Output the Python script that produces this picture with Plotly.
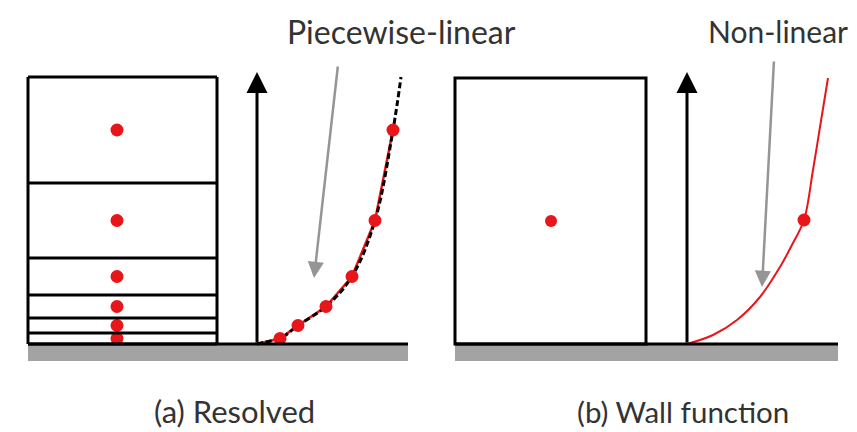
import plotly.graph_objects as go

# ---- data (x in px across the figure, h = height above the wall) ----
wall_a = [28, 408]
wall_b = [455, 838]

cells_a_x = [28, 217]
cell_edges_a = [0, 11, 26, 49, 86, 161, 267]
dots_a_x = 117
dots_a_h = [5.5, 18.5, 37.5, 67.5, 123.5, 214]

axis_a_x = 257
prof_a_u = [0, 23, 41, 69, 95, 118, 136]
prof_a_h = [0, 5.5, 18.5, 37.5, 67.5, 123.5, 214]
fit_a_u = [0, 8, 23, 41, 69, 95, 118, 136, 144]
fit_a_h = [0, 2, 5.5, 18.5, 37.5, 67.5, 123.5, 214, 267]

cell_b_x = [455, 646]
cell_b_h = [0, 266]
dot_b_x = [551]
dot_b_h = [123]

axis_b_x = 687
prof_b_u = [0, 26, 50, 73, 93, 106, 117, 126, 133, 141]
prof_b_h = [0, 9, 24, 47, 77, 101, 124, 174, 217, 266]
pt_b_u = [117]
pt_b_h = [124]

axis_top_h = 272

pointer_a = [(338, 279), (314, 66)]
pointer_b = [(774, 284), (762, 57)]

label_a = ("Piecewise-linear", 401, 313)
label_b = ("Non-linear", 778, 313)
caption_a = ("(a) Resolved", 234, -67)
caption_b = ("(b) Wall function", 683, -67)

RED = "#e8161b"
TXT = "#333333"

fig = go.Figure()
shapes = []

# wall strips
for w in (wall_a, wall_b):
    shapes.append(dict(type="rect", x0=w[0], x1=w[1], y0=-17, y1=0,
                       fillcolor="#a3a3a3", line=dict(width=0), layer="below"))
    shapes.append(dict(type="line", x0=w[0], x1=w[1], y0=0, y1=0,
                       line=dict(color="black", width=3)))

# resolved cells
for e in cell_edges_a:
    shapes.append(dict(type="line", x0=cells_a_x[0], x1=cells_a_x[1], y0=e, y1=e,
                       line=dict(color="black", width=3)))
for xx in cells_a_x:
    shapes.append(dict(type="line", x0=xx, x1=xx, y0=0, y1=cell_edges_a[-1],
                       line=dict(color="black", width=3)))

# wall-function cell
shapes.append(dict(type="rect", x0=cell_b_x[0], x1=cell_b_x[1], y0=cell_b_h[0], y1=cell_b_h[1],
                   line=dict(color="black", width=3)))

fig.add_trace(go.Scatter(x=[dots_a_x] * len(dots_a_h), y=dots_a_h, mode="markers",
                         marker=dict(color=RED, size=13), hoverinfo="skip"))
fig.add_trace(go.Scatter(x=dot_b_x, y=dot_b_h, mode="markers",
                         marker=dict(color=RED, size=12), hoverinfo="skip"))

# profile (a)
fig.add_trace(go.Scatter(x=[axis_a_x + u for u in prof_a_u], y=prof_a_h, mode="lines",
                         line=dict(color=RED, width=2.5), hoverinfo="skip"))
fig.add_trace(go.Scatter(x=[axis_a_x + u for u in fit_a_u], y=fit_a_h, mode="lines",
                         line=dict(color="black", width=3, dash="6px,3px", shape="spline"),
                         hoverinfo="skip"))
fig.add_trace(go.Scatter(x=[axis_a_x + u for u in prof_a_u[1:]], y=prof_a_h[1:], mode="markers",
                         marker=dict(color=RED, size=13), hoverinfo="skip"))

# profile (b)
fig.add_trace(go.Scatter(x=[axis_b_x + u for u in prof_b_u], y=prof_b_h, mode="lines",
                         line=dict(color=RED, width=2, shape="spline", smoothing=1),
                         hoverinfo="skip"))
fig.add_trace(go.Scatter(x=[axis_b_x + u for u in pt_b_u], y=pt_b_h, mode="markers",
                         marker=dict(color=RED, size=13), hoverinfo="skip"))

ann = []
for ax_x in (axis_a_x, axis_b_x):
    ann.append(dict(x=ax_x, y=axis_top_h, ax=ax_x, ay=0, xref="x", yref="y",
                    axref="x", ayref="y", text="", showarrow=True, arrowhead=2,
                    arrowwidth=3, arrowsize=1.4, arrowcolor="black", standoff=0))
for p in (pointer_a, pointer_b):
    ann.append(dict(x=p[1][0], y=p[1][1], ax=p[0][0], ay=p[0][1], xref="x", yref="y",
                    axref="x", ayref="y", text="", showarrow=True, arrowhead=2,
                    arrowwidth=2.5, arrowsize=1.3, arrowcolor="#959595", standoff=0))
ann.append(dict(x=label_a[1], y=label_a[2], text=label_a[0], showarrow=False,
                xref="x", yref="y", font=dict(family="Lato", size=32, color=TXT)))
ann.append(dict(x=label_b[1], y=label_b[2], text=label_b[0], showarrow=False,
                xref="x", yref="y", font=dict(family="Lato", size=30, color=TXT)))
ann.append(dict(x=caption_a[1], y=caption_a[2], text=caption_a[0], showarrow=False,
                xref="x", yref="y", font=dict(family="Lato", size=31, color=TXT)))
ann.append(dict(x=caption_b[1], y=caption_b[2], text=caption_b[0], showarrow=False,
                xref="x", yref="y", font=dict(family="Lato", size=29.5, color=TXT)))

# the page body keeps an 8px margin, so the figure covers page px 8..857 / 8..432
fig.update_layout(
    width=849, height=424, margin=dict(l=0, r=0, t=0, b=0),
    paper_bgcolor="white", plot_bgcolor="white", showlegend=False,
    shapes=shapes, annotations=ann,
    xaxis=dict(range=[8, 857], visible=False, fixedrange=True),
    yaxis=dict(range=[-88, 336], visible=False, fixedrange=True),
)
fig.write_html("out.html")
